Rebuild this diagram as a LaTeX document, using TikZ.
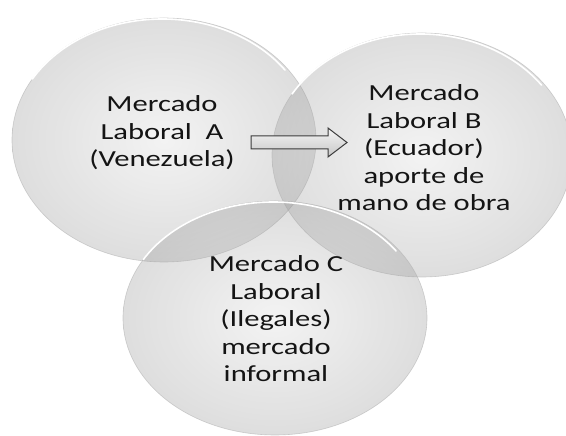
\documentclass[tikz,border=0pt]{standalone}
\usepackage{fontspec}
\newfontfamily\vennfont[FakeStretch=1.33]{Carlito}
\usepackage{tikz}
\usetikzlibrary{positioning}

\tikzset{
    setfill/.style={inner color=black!14, outer color=black!40, fill opacity=0.32},
    setrim/.style={draw=black!30, line width=0.6pt, draw opacity=0.6},
    setshine/.style={draw=white, line width=1.6pt, line cap=round},
    settext/.style={font=\vennfont\fontsize{23}{27.5}\selectfont, text=black!92, align=center, inner sep=0pt}
}

\begin{document}
\begin{tikzpicture}[x=1pt, y=1pt]
    \definecolor{arrowedge}{RGB}{60, 60, 60}

    % Canvas
    \fill[white] (0, 0) rectangle (566, 436);
    \useasboundingbox (0, 0) rectangle (566, 436);

    % Set A (Venezuela)
    \shade[setfill] (164, 296) ellipse [x radius=152, y radius=122];
    \draw[setrim] (164, 296) ellipse [x radius=152, y radius=122];
    \draw[setshine] (164, 296) ++(150:152 and 122) arc [start angle=150, end angle=35, x radius=150, y radius=120];

    % Set B (Ecuador)
    \shade[setfill] (422, 281) ellipse [x radius=150, y radius=122];
    \draw[setrim] (422, 281) ellipse [x radius=150, y radius=122];
    \draw[setshine] (422, 281) ++(150:150 and 122) arc [start angle=150, end angle=35, x radius=148, y radius=120];

    % Set C (informal)
    \shade[setfill] (275, 118) ellipse [x radius=152, y radius=117];
    \draw[setrim] (275, 118) ellipse [x radius=152, y radius=117];
    \draw[setshine] (275, 118) ++(150:152 and 117) arc [start angle=150, end angle=35, x radius=150, y radius=115];

    % Labels
    \node[settext] (marketA) at (162, 303) {Mercado\\Laboral\ \ A\\(Venezuela)};
    \node[settext] (marketB) at (424, 288) {Mercado\\Laboral B\\(Ecuador)\\aporte de\\mano de obra};
    \node[settext] (marketC) at (276, 117) {Mercado C\\Laboral\\(Ilegales)\\mercado\\informal};

    % Block arrow A -> B
    \shade[top color=black!4, bottom color=black!22, draw=arrowedge, line width=1pt, line join=miter]
        (251, 300) -- (328, 300) -- (328, 308) -- (347, 293.5) -- (328, 279)
        -- (328, 287) -- (251, 287) -- cycle;
\end{tikzpicture}
\end{document}
